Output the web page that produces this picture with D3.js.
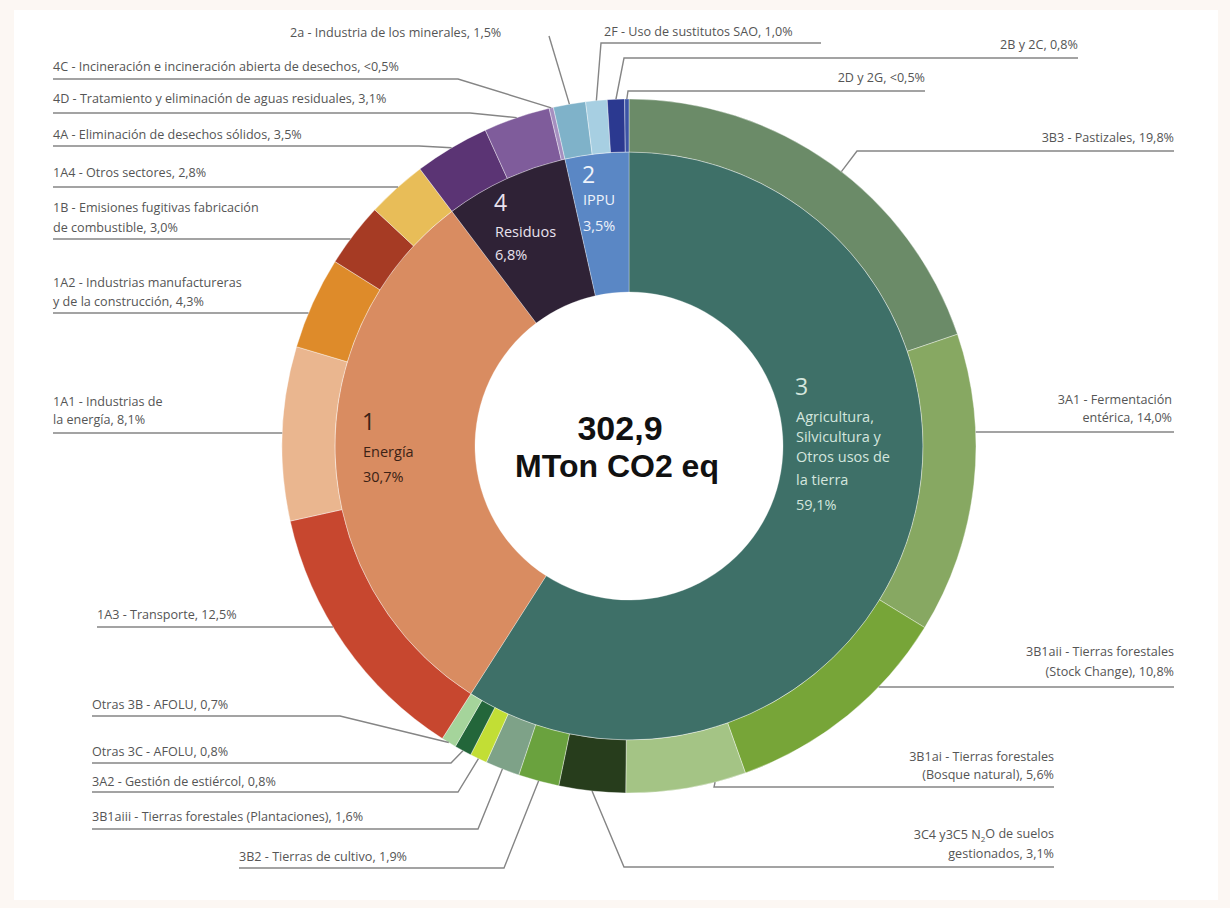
<!DOCTYPE html>
<html>
<head>
<meta charset="utf-8">
<script src="https://cdn.jsdelivr.net/npm/d3@7"></script>
<style>
  html, body { margin: 0; padding: 0; background: #fcf7f3; }
  svg { display: block; }
</style>
</head>
<body>
<svg id="chart" width="1230" height="908"></svg>
<script>
// ---------------- DATA ----------------
const sectorCodes  = ["3", "1", "4", "2"];
const sectorNames  = [["Agricultura,", "Silvicultura y", "Otros usos de", "la tierra"], ["Energía"], ["Residuos"], ["IPPU"]];
const sectorValues = [59.1, 30.7, 6.8, 3.5];
const sectorPct    = ["59,1%", "30,7%", "6,8%", "3,5%"];

const subCodes  = ["3B3", "3A1", "3B1aii", "3B1ai", "3C4y3C5", "3B2", "3B1aiii", "3A2", "Otras3C", "Otras3B",
                   "1A3", "1A1", "1A2", "1B", "1A4",
                   "4A", "4D", "4C",
                   "2a", "2F", "2B2C", "2D2G"];
const subValues = [19.8, 14.0, 10.8, 5.6, 3.1, 1.9, 1.6, 0.8, 0.8, 0.7,
                   12.5, 8.1, 4.3, 3.0, 2.8,
                   3.5, 3.1, 0.2,
                   1.5, 1.0, 0.8, 0.2];
const subLabels = [
  ["3B3 - Pastizales, 19,8%"],
  ["3A1 - Fermentación", "entérica, 14,0%"],
  ["3B1aii - Tierras forestales", "(Stock Change), 10,8%"],
  ["3B1ai - Tierras forestales", "(Bosque natural), 5,6%"],
  ["3C4 y3C5 N|2|O de suelos", "gestionados, 3,1%"],
  ["3B2 - Tierras de cultivo, 1,9%"],
  ["3B1aiii - Tierras forestales (Plantaciones), 1,6%"],
  ["3A2 - Gestión de estiércol, 0,8%"],
  ["Otras 3C - AFOLU, 0,8%"],
  ["Otras 3B - AFOLU, 0,7%"],
  ["1A3 - Transporte, 12,5%"],
  ["1A1 - Industrias de", "la energía, 8,1%"],
  ["1A2 - Industrias manufactureras", "y de la construcción, 4,3%"],
  ["1B - Emisiones fugitivas fabricación", "de combustible, 3,0%"],
  ["1A4 - Otros sectores, 2,8%"],
  ["4A - Eliminación de desechos sólidos, 3,5%"],
  ["4D - Tratamiento y eliminación de aguas residuales, 3,1%"],
  ["4C - Incineración e incineración abierta de desechos, <0,5%"],
  ["2a - Industria de los minerales, 1,5%"],
  ["2F - Uso de sustitutos SAO, 1,0%"],
  ["2B y 2C, 0,8%"],
  ["2D y 2G, <0,5%"]
];
const totalLines = ["302,9", "MTon CO2 eq"];

// ---------------- STYLE / LAYOUT ----------------
const sectorColors = ["#3e7068", "#d98c61", "#2f2236", "#5a87c5"];
const sectorTextColors = ["#d4e6de", "#3b2215", "#e9e2ee", "#eef2fa"];
const subColors = ["#6b8b68", "#87a862", "#77a538", "#a4c485", "#273d1c", "#6aa23e", "#7ea288", "#c2de35", "#23663a", "#a5d49b",
                   "#c7472f", "#eab68f", "#de8b2a", "#a63b24", "#e8bd58",
                   "#5b3474", "#7f5c9b", "#a58fc0",
                   "#7fb2c9", "#a7cfe2", "#2b3990", "#3c54a5"];

// label layout: anchor, text x, text line centers, underline y, underline far x, elbow x, target ('h' horizontal or fraction of arc)
const labelLayout = {
  "3B3":     {a: "end",   x: 1174, ty: [138],      uy: 151, far: 1174, elbow: 857, t: 0.53},
  "3A1":     {a: "end",   x: 1172, ty: [400, 418], uy: 432, far: 1174, t: "h"},
  "3B1aii":  {a: "end",   x: 1174, ty: [652, 672], uy: 687, far: 1174, t: "h"},
  "3B1ai":   {a: "end",   x: 1054, ty: [757, 775], uy: 787, far: 1054, elbow: 714, t: 0.26},
  "3C4y3C5": {a: "end",   x: 1054, ty: [835, 854], uy: 867, far: 1054, elbow: 624, t: 0.5},
  "3B2":     {a: "start", x: 239,  ty: [857],      uy: 868, far: 239,  elbow: 504, t: 0.5},
  "3B1aiii": {a: "start", x: 92,   ty: [817],      uy: 829, far: 92,   elbow: 478, t: 0.5},
  "3A2":     {a: "start", x: 92,   ty: [782],      uy: 792, far: 92,   elbow: 458, t: 0.5},
  "Otras3C": {a: "start", x: 92,   ty: [752],      uy: 763, far: 92,   elbow: 451, t: 0.5},
  "Otras3B": {a: "start", x: 92,   ty: [705],      uy: 716, far: 92,   elbow: 340, t: 0.5},
  "1A3":     {a: "start", x: 97,   ty: [615],      uy: 627, far: 97,   t: "h"},
  "1A1":     {a: "start", x: 53,   ty: [402, 420], uy: 433, far: 53,   t: "h"},
  "1A2":     {a: "start", x: 53,   ty: [283, 302], uy: 313, far: 53,   t: "h"},
  "1B":      {a: "start", x: 53,   ty: [208, 228], uy: 239, far: 53,   t: "h"},
  "1A4":     {a: "start", x: 53,   ty: [173],      uy: 187, far: 53,   t: "h"},
  "4A":      {a: "start", x: 53,   ty: [135],      uy: 146, far: 53,   elbow: 419, t: 0.5},
  "4D":      {a: "start", x: 53,   ty: [99],       uy: 113, far: 53,   elbow: 470, t: 0.5},
  "4C":      {a: "start", x: 53,   ty: [67],       uy: 79,  far: 53,   elbow: 458, t: 0.5},
  "2a":      {a: "start", x: 290,  ty: [33],       uy: 36,  far: 549,  elbow: 549, t: 0.5},
  "2F":      {a: "start", x: 604,  ty: [32],       uy: 43,  far: 821,  elbow: 601, t: 0.5},
  "2B2C":    {a: "end",   x: 1078, ty: [45],       uy: 58,  far: 1078, elbow: 624, t: 0.5},
  "2D2G":    {a: "end",   x: 925,  ty: [78],       uy: 91,  far: 925,  elbow: 628, t: 0.5}
};
const sectorLabelPos = [
  {x: 796, y: 387, lines: [417, 437, 457, 480], pct: 505},
  {x: 363, y: 422, lines: [452], pct: 477},
  {x: 495, y: 203, lines: [232], pct: 255},
  {x: 583, y: 175, lines: [200], pct: 226}
];

const cx = 629, cy = 446;
const rHole = 154, rMid = 294, rOut = 347;
const FONT = "'Open Sans', 'Noto Sans', sans-serif";
const CENTER_FONT = "'Liberation Sans', Arial, sans-serif";

// ---------------- DRAW ----------------
const svg = d3.select("#chart");
svg.append("rect").attr("x", 14).attr("y", 10).attr("width", 1204).attr("height", 890).attr("fill", "#ffffff");

const g = svg.append("g").attr("transform", `translate(${cx},${cy})`);

const pie = d3.pie().sort(null).startAngle(0).endAngle(2 * Math.PI).padAngle(0);
const innerArcs = pie(sectorValues);
const outerArcs = pie(subValues);

const arcInner = d3.arc().innerRadius(rHole).outerRadius(rMid);
const arcOuter = d3.arc().innerRadius(rMid).outerRadius(rOut);

g.selectAll("path.inner").data(innerArcs).join("path")
  .attr("class", "inner")
  .attr("d", arcInner)
  .attr("fill", (d, i) => sectorColors[i])
  .attr("stroke", "#ffffff").attr("stroke-width", 0.6).attr("stroke-opacity", 0.5);

g.selectAll("path.outer").data(outerArcs).join("path")
  .attr("class", "outer")
  .attr("d", arcOuter)
  .attr("fill", (d, i) => subColors[i])
  .attr("stroke", "#ffffff").attr("stroke-width", 0.7).attr("stroke-opacity", 0.55);

// center text
svg.append("text").attr("x", 620).attr("y", 440).attr("text-anchor", "middle")
  .attr("font-family", CENTER_FONT).attr("font-weight", 700).attr("font-size", 34).attr("fill", "#111")
  .text(totalLines[0]);
svg.append("text").attr("x", 617).attr("y", 477).attr("text-anchor", "middle")
  .attr("font-family", CENTER_FONT).attr("font-weight", 700).attr("font-size", 32).attr("fill", "#111")
  .text(totalLines[1]);

// sector labels
sectorCodes.forEach((code, i) => {
  const p = sectorLabelPos[i];
  const col = sectorTextColors[i];
  svg.append("text").attr("x", p.x - 1).attr("y", p.y).attr("dy", "0.35em")
    .attr("font-family", FONT).attr("font-size", 23).attr("fill", col).text(code);
  sectorNames[i].forEach((ln, j) => {
    svg.append("text").attr("x", p.x).attr("y", p.lines[j]).attr("dy", "0.35em")
      .attr("font-family", FONT).attr("font-size", 14.5).attr("fill", col).text(ln);
  });
  svg.append("text").attr("x", p.x).attr("y", p.pct).attr("dy", "0.35em")
    .attr("font-family", FONT).attr("font-size", 14.5).attr("fill", col).text(sectorPct[i]);
});

// outer labels + leader lines
const lineColor = "#858585";
const lblG = svg.append("g");
outerArcs.forEach((d, i) => {
  const L = labelLayout[subCodes[i]];
  subLabels[i].forEach((ln, j) => {
    const t = lblG.append("text").attr("x", L.x).attr("y", L.ty[j]).attr("dy", "0.35em")
      .attr("text-anchor", L.a).attr("font-family", FONT).attr("font-size", 12.6).attr("fill", "#555");
    if (ln.includes("|")) {
      const parts = ln.split("|");
      t.append("tspan").text(parts[0]);
      t.append("tspan").attr("font-size", 8).attr("dy", "0.3em").text(parts[1]);
      t.append("tspan").attr("dy", "-0.3em").text(parts[2]);
    } else {
      t.text(ln);
    }
  });
  let pts;
  if (L.t === "h") {
    const dy = L.uy - cy;
    const dx = Math.sqrt(rOut * rOut - dy * dy);
    const xr = L.a === "start" ? cx - dx : cx + dx;
    pts = [[L.far, L.uy], [xr, L.uy]];
  } else {
    const ang = d.startAngle + L.t * (d.endAngle - d.startAngle);
    const tx = cx + rOut * Math.sin(ang), ty = cy - rOut * Math.cos(ang);
    pts = [[L.far, L.uy], [L.elbow, L.uy], [tx, ty]];
  }
  lblG.append("path").attr("d", d3.line()(pts))
    .attr("fill", "none").attr("stroke", lineColor).attr("stroke-width", 1.4);
});
</script>
</body>
</html>
